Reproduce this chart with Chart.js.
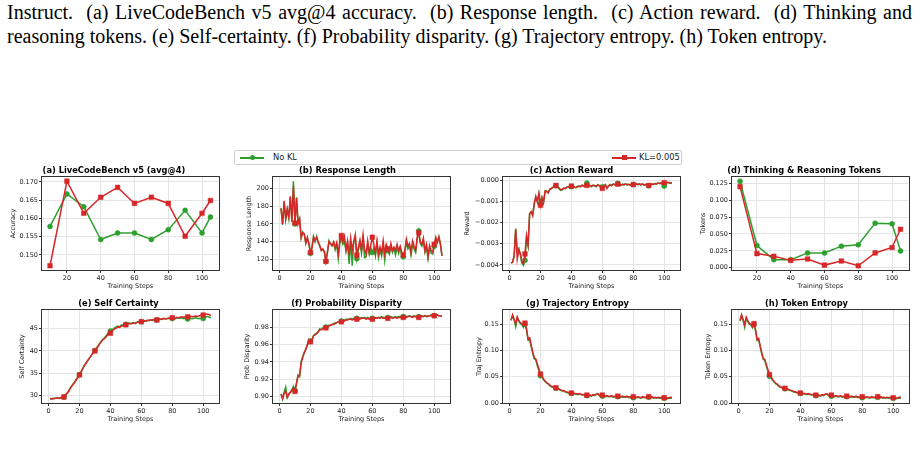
<!DOCTYPE html>
<html>
<head>
<meta charset="utf-8">
<script src="https://cdn.jsdelivr.net/npm/chart.js@4.4.1/dist/chart.umd.min.js"></script>
<style>
  body { margin: 0; width: 920px; height: 455px; background: #fff; position: relative; overflow: hidden; }
  .cap { position: absolute; left: 7px; width: 905px; font-family: "Liberation Serif", serif; font-size: 20px; line-height: 20px; color: #000; }
  #cap1 { top: 2px; text-align: justify; text-align-last: justify; }
  #cap2 { top: 26px; white-space: nowrap; }
  .panel { position: absolute; }
  #legend { position: absolute; left: 234px; top: 150px; width: 446px; height: 13px; border: 1px solid #d0d0d0; border-radius: 2px;
            font-family: "DejaVu Sans", sans-serif; font-size: 8.3px; color: #222; }
  .item { position: absolute; top: 0; height: 13px; line-height: 13px; }
  .sym { position: absolute; top: 6px; width: 24px; height: 1.5px; }
  .sym i { position: absolute; left: 9.5px; top: -2.2px; width: 5px; height: 5px; }
</style>
</head>
<body>
<div class="cap" id="cap1">Instruct.&nbsp; (a) LiveCodeBench v5 avg@4 accuracy.&nbsp; (b) Response length.&nbsp; (c) Action reward.&nbsp; (d) Thinking and</div>
<div class="cap" id="cap2">reasoning tokens. (e) Self-certainty. (f) Probability disparity. (g) Trajectory entropy. (h) Token entropy.</div>

<div id="legend">
  <div class="item" style="left:5px"><span class="sym" style="background:#2ca02c"><i style="background:#2ca02c;border-radius:50%"></i></span><span style="position:absolute;left:33px">No&nbsp;KL</span></div>
  <div class="item" style="left:377px"><span class="sym" style="background:#d62728"><i style="background:#d62728"></i></span><span style="position:absolute;left:27px;white-space:nowrap">KL=0.005</span></div>
</div>

<canvas id="pa" class="panel"></canvas>
<canvas id="pb" class="panel"></canvas>
<canvas id="pc" class="panel"></canvas>
<canvas id="pd" class="panel"></canvas>
<canvas id="pe" class="panel"></canvas>
<canvas id="pf" class="panel"></canvas>
<canvas id="pg" class="panel"></canvas>
<canvas id="ph" class="panel"></canvas>

<script>
// ===========================
// DATA
// ===========================
const evalSteps = [10, 20, 30, 40, 50, 60, 70, 80, 90, 100, 105];

// (a) LiveCodeBench v5 avg@4
const accNoKL = [0.1578, 0.1667, 0.1632, 0.1542, 0.1560, 0.1560, 0.1542, 0.1569, 0.1622, 0.1560, 0.1604];
const accKL   = [0.1470, 0.1702, 0.1614, 0.1658, 0.1685, 0.1641, 0.1658, 0.1641, 0.1551, 0.1614, 0.1649];

// (d) thinking & reasoning tokens
const tokNoKL = [0.128, 0.033, 0.012, 0.012, 0.022, 0.022, 0.032, 0.034, 0.066, 0.065, 0.025];
const tokKL   = [0.120, 0.021, 0.017, 0.011, 0.013, 0.004, 0.010, 0.003, 0.022, 0.030, 0.057];

// (b) response length, steps 1..105
const lenNoKL = [
  178,159,184,166,176,166,190,163,208,160,190,161,165,144,151,148,139,144,137,127,
  134,146,140,146,139,135,131,131,128,118,129,141,137,135,139,131,137,121,139,143,
  137,140,129,138,115,141,113,140,144,121,131,139,127,142,122,123,137,126,133,128,
  133,124,138,122,131,124,137,119,134,130,126,135,128,132,125,134,127,133,124,123,
  127,140,132,136,125,137,132,128,143,152,138,135,141,128,134,121,133,127,126,135,
  143,140,146,137,125];
const lenKL = [
  177,160,186,165,177,168,191,162,202,161,189,160,166,145,150,149,138,145,138,128,
  133,145,141,145,140,136,130,132,129,118,128,140,138,136,140,133,139,126,141,147,
  140,146,131,141,125,144,130,141,148,125,134,142,131,148,131,126,141,128,136,145,
  137,127,141,126,134,127,141,126,137,132,128,138,130,134,130,137,130,135,128,125,
  130,143,135,138,128,141,135,130,145,150,140,137,144,130,137,123,136,130,128,137,
  145,139,145,138,124];

// (c) action reward
const rewNoKL = [
  -0.00390,-0.00388,-0.00360,-0.00228,-0.00330,-0.00320,-0.00352,-0.00392,-0.00402,-0.00378,
  -0.00270,-0.00310,-0.00160,-0.00150,-0.00162,-0.00112,-0.00080,-0.00100,-0.00060,-0.00110,
  -0.00080,-0.00102,-0.00052,-0.00050,-0.00060,-0.00042,-0.00040,-0.00032,-0.00030,-0.00026,
  -0.00030,-0.00040,-0.00048,-0.00046,-0.00038,-0.00040,-0.00032,-0.00030,-0.00034,-0.00030,
  -0.00028,-0.00032,-0.00036,-0.00030,-0.00026,-0.00030,-0.00022,-0.00028,-0.00020,-0.00013,
  -0.00020,-0.00024,-0.00030,-0.00022,-0.00026,-0.00030,-0.00020,-0.00026,-0.00030,-0.00030,
  -0.00028,-0.00020,-0.00036,-0.00028,-0.00020,-0.00026,-0.00018,-0.00022,-0.00020,-0.00014,
  -0.00020,-0.00024,-0.00018,-0.00022,-0.00016,-0.00022,-0.00018,-0.00024,-0.00020,-0.00020,
  -0.00022,-0.00016,-0.00020,-0.00018,-0.00022,-0.00016,-0.00024,-0.00020,-0.00022,-0.00026,
  -0.00020,-0.00016,-0.00020,-0.00014,-0.00018,-0.00012,-0.00016,-0.00014,-0.00020,-0.00027,
  -0.00016,-0.00010,-0.00012,-0.00014,-0.00012];
const rewKL = [
  -0.00392,-0.00386,-0.00355,-0.00232,-0.00372,-0.00330,-0.00345,-0.00385,-0.00395,-0.00348,
  -0.00262,-0.00305,-0.00158,-0.00148,-0.00168,-0.00108,-0.00076,-0.00104,-0.00064,-0.00118,
  -0.00082,-0.00106,-0.00050,-0.00054,-0.00058,-0.00044,-0.00038,-0.00034,-0.00028,-0.00024,
  -0.00032,-0.00036,-0.00044,-0.00042,-0.00036,-0.00038,-0.00034,-0.00030,-0.00032,-0.00027,
  -0.00030,-0.00034,-0.00032,-0.00028,-0.00030,-0.00028,-0.00024,-0.00026,-0.00022,-0.00024,
  -0.00022,-0.00026,-0.00028,-0.00024,-0.00024,-0.00028,-0.00022,-0.00024,-0.00028,-0.00038,
  -0.00026,-0.00022,-0.00038,-0.00026,-0.00022,-0.00024,-0.00018,-0.00020,-0.00018,-0.00018,
  -0.00018,-0.00022,-0.00020,-0.00020,-0.00018,-0.00020,-0.00020,-0.00022,-0.00018,-0.00020,
  -0.00020,-0.00018,-0.00020,-0.00016,-0.00020,-0.00018,-0.00022,-0.00020,-0.00020,-0.00024,
  -0.00022,-0.00018,-0.00018,-0.00016,-0.00016,-0.00014,-0.00014,-0.00012,-0.00014,-0.00011,
  -0.00014,-0.00010,-0.00010,-0.00012,-0.00012];

// (e) self certainty
const certNoKL = [
  29.2,29.1,29.3,29.2,29.4,29.3,29.3,29.4,29.5,29.6, 30.0,30.4,30.8,31.5,32.0,32.6,33.0,33.6,34.0,34.6,
  35.3,36.0,36.5,37.2,37.6,38.2,38.6,39.2,39.6,40.1, 40.6,41.2,41.6,42.2,42.6,42.9,43.3,43.8,44.3,44.5,
  44.8,45.0,45.3,45.5,45.6,45.4,45.8,45.9,45.8,46.0, 46.1,46.3,46.2,46.3,46.4,46.2,46.5,46.6,46.5,46.6,
  46.8,46.7,46.7,46.9,46.8,47.0,46.9,47.0,47.1,47.0, 47.1,47.2,47.1,47.2,47.3,47.2,47.3,47.4,47.2,47.3,
  47.4,47.3,47.5,47.4,47.4,47.5,47.3,47.4,47.3,47.2, 47.3,47.4,47.3,47.4,47.5,47.4,47.3,47.4,47.3,47.3,
  47.5,47.7,47.8,47.6,47.5];
const certKL = [
  29.3,29.2,29.2,29.3,29.3,29.4,29.3,29.5,29.5,29.6, 30.1,30.5,30.9,31.6,32.1,32.5,33.0,33.5,34.1,34.6,
  35.2,35.9,36.6,37.1,37.7,38.1,38.7,39.1,39.7,40.0, 40.5,41.0,41.6,42.0,42.5,42.7,43.1,43.5,43.9,44.0,
  44.5,44.8,45.0,45.2,45.5,45.3,45.6,45.7,45.6,45.9, 46.0,46.2,46.1,46.2,46.3,46.2,46.4,46.6,46.5,46.6,
  46.8,46.8,46.7,46.9,46.9,47.0,47.0,47.1,47.0,47.0, 47.2,47.2,47.1,47.3,47.3,47.2,47.4,47.4,47.5,47.5,
  47.5,47.4,47.6,47.5,47.6,47.7,47.6,47.7,47.6,47.7, 47.6,47.8,47.7,47.8,47.9,47.8,47.9,48.0,48.1,48.1,
  48.2,48.3,48.3,48.2,48.0];

// (f) probability disparity
const dispNoKL = [
  0.903,0.897,0.905,0.911,0.899,0.902,0.905,0.908,0.912,0.907, 0.916,0.925,0.923,0.940,0.946,0.950,0.955,0.959,0.966,0.964,
  0.966,0.970,0.972,0.972,0.975,0.978,0.977,0.979,0.980,0.980, 0.981,0.982,0.982,0.983,0.984,0.985,0.985,0.986,0.987,0.987,
  0.988,0.988,0.989,0.989,0.989,0.990,0.989,0.990,0.990,0.990, 0.990,0.990,0.991,0.990,0.991,0.990,0.991,0.990,0.990,0.990,
  0.991,0.991,0.990,0.991,0.991,0.992,0.991,0.991,0.991,0.991, 0.991,0.992,0.991,0.991,0.992,0.991,0.992,0.992,0.991,0.992,
  0.991,0.992,0.992,0.993,0.992,0.992,0.993,0.992,0.991,0.992, 0.992,0.993,0.992,0.993,0.992,0.993,0.993,0.994,0.993,0.993,
  0.993,0.994,0.993,0.993,0.992];
const dispKL = [
  0.903,0.898,0.904,0.906,0.899,0.903,0.905,0.907,0.910,0.906, 0.915,0.924,0.924,0.939,0.945,0.951,0.954,0.960,0.965,0.963,
  0.965,0.970,0.971,0.973,0.974,0.977,0.977,0.978,0.979,0.979, 0.980,0.981,0.982,0.983,0.983,0.984,0.985,0.986,0.986,0.986,
  0.987,0.987,0.988,0.988,0.989,0.989,0.988,0.989,0.989,0.989, 0.990,0.989,0.990,0.990,0.990,0.989,0.990,0.989,0.989,0.989,
  0.990,0.990,0.990,0.991,0.990,0.991,0.990,0.990,0.990,0.990, 0.991,0.991,0.990,0.991,0.991,0.990,0.991,0.991,0.991,0.991,
  0.991,0.991,0.992,0.992,0.992,0.991,0.992,0.992,0.991,0.991, 0.992,0.992,0.992,0.993,0.992,0.992,0.993,0.993,0.993,0.993,
  0.993,0.994,0.993,0.993,0.992];

// (g) trajectory entropy
const trajNoKL = [
  0.157,0.166,0.158,0.145,0.162,0.156,0.151,0.149,0.144,0.150, 0.139,0.120,0.122,0.108,0.095,0.084,0.082,0.071,0.062,0.052,
  0.049,0.044,0.041,0.038,0.036,0.033,0.031,0.030,0.029,0.028, 0.027,0.026,0.024,0.023,0.023,0.021,0.020,0.019,0.019,0.018,
  0.018,0.017,0.017,0.016,0.017,0.016,0.015,0.015,0.014,0.014, 0.014,0.014,0.013,0.015,0.014,0.016,0.017,0.014,0.013,0.013,
  0.013,0.012,0.013,0.012,0.012,0.013,0.011,0.012,0.012,0.012, 0.012,0.011,0.012,0.011,0.011,0.012,0.010,0.011,0.010,0.010,
  0.011,0.010,0.011,0.010,0.009,0.011,0.010,0.010,0.011,0.011, 0.010,0.011,0.009,0.010,0.009,0.010,0.009,0.010,0.009,0.009,
  0.009,0.008,0.009,0.009,0.009];
const trajKL = [
  0.158,0.168,0.160,0.150,0.164,0.157,0.153,0.151,0.146,0.152, 0.141,0.122,0.124,0.110,0.097,0.086,0.084,0.074,0.065,0.055,
  0.051,0.046,0.042,0.039,0.037,0.034,0.032,0.031,0.030,0.029, 0.028,0.027,0.025,0.024,0.024,0.022,0.021,0.020,0.020,0.019,
  0.019,0.018,0.018,0.017,0.018,0.017,0.016,0.016,0.015,0.015, 0.015,0.015,0.014,0.016,0.015,0.017,0.018,0.015,0.014,0.015,
  0.014,0.013,0.014,0.013,0.013,0.014,0.012,0.013,0.013,0.013, 0.013,0.012,0.013,0.012,0.012,0.013,0.011,0.012,0.011,0.012,
  0.012,0.011,0.012,0.011,0.010,0.012,0.011,0.011,0.012,0.012, 0.011,0.012,0.010,0.011,0.010,0.011,0.010,0.011,0.010,0.010,
  0.010,0.009,0.010,0.011,0.011];

// (h) token entropy
const tentNoKL = [
  0.156,0.166,0.157,0.144,0.161,0.155,0.150,0.148,0.143,0.149, 0.138,0.119,0.121,0.107,0.094,0.083,0.081,0.070,0.061,0.051,
  0.048,0.043,0.040,0.037,0.035,0.032,0.030,0.029,0.028,0.027, 0.026,0.025,0.024,0.023,0.022,0.021,0.020,0.019,0.019,0.018,
  0.018,0.017,0.017,0.016,0.017,0.016,0.015,0.015,0.014,0.014, 0.014,0.014,0.013,0.015,0.014,0.016,0.017,0.014,0.013,0.013,
  0.013,0.012,0.013,0.012,0.012,0.013,0.011,0.012,0.012,0.012, 0.012,0.011,0.012,0.011,0.011,0.012,0.010,0.011,0.010,0.010,
  0.011,0.010,0.011,0.010,0.009,0.011,0.010,0.010,0.011,0.011, 0.010,0.011,0.009,0.010,0.009,0.010,0.009,0.010,0.009,0.009,
  0.009,0.008,0.009,0.009,0.009];
const tentKL = [
  0.157,0.168,0.159,0.149,0.163,0.156,0.152,0.150,0.145,0.151, 0.140,0.121,0.123,0.109,0.096,0.085,0.083,0.073,0.064,0.054,
  0.050,0.045,0.041,0.038,0.036,0.033,0.031,0.030,0.029,0.028, 0.027,0.026,0.025,0.024,0.023,0.022,0.021,0.020,0.020,0.019,
  0.019,0.018,0.018,0.017,0.018,0.017,0.016,0.016,0.015,0.015, 0.015,0.015,0.014,0.016,0.015,0.017,0.018,0.015,0.014,0.015,
  0.014,0.013,0.014,0.013,0.013,0.014,0.012,0.013,0.013,0.013, 0.013,0.012,0.013,0.012,0.012,0.013,0.011,0.012,0.011,0.012,
  0.012,0.011,0.012,0.011,0.010,0.012,0.011,0.011,0.012,0.012, 0.011,0.012,0.010,0.011,0.010,0.011,0.010,0.011,0.010,0.010,
  0.010,0.009,0.010,0.011,0.011];

const trainSteps = lenNoKL.map((_, i) => i + 1);

// ===========================
// STYLE
// ===========================
const GREEN = '#2ca02c';
const RED = '#d62728';
const FONT = '"DejaVu Sans", sans-serif';
const GRID = '#e4e4e4';
const PLOT_W = 177, PLOT_H = 93;
const COLS = [42, 273, 503, 732];
const ROWS = [165, 298];       // canvas tops
const TITLE_H = 12, XAXIS_H = 20, PAD_R = 4;

// axes box (matplotlib-like spines on all four sides)
const frame = {
  id: 'frame',
  afterDraw(chart) {
    const { ctx, chartArea: a } = chart;
    ctx.save();
    ctx.strokeStyle = '#333';
    ctx.lineWidth = 1;
    ctx.strokeRect(Math.round(a.left) - 0.5, Math.round(a.top) - 0.5, Math.round(a.right - a.left) + 1, Math.round(a.bottom - a.top) + 1);
    ctx.restore();
  }
};

function fmt(dec) {
  return v => {
    const s = Math.abs(v) < 1e-12 ? (0).toFixed(dec) : v.toFixed(dec);
    return s.replace('-', '\u2212');
  };
}

function series(label, xs, ys, color, shape, dense, order) {
  return {
    label,
    data: xs.map((x, i) => ({ x, y: ys[i] })),
    borderColor: color,
    backgroundColor: color,
    borderWidth: 1.5,
    pointStyle: shape,
    pointRadius: dense ? (c => (xs[c.dataIndex] % 10 === 0 ? (shape === 'rect' ? 3.3 : 2.5) : 0)) : (shape === 'rect' ? 3.3 : 2.5),
    pointBorderWidth: 0.5,
    pointBackgroundColor: color,
    pointBorderColor: color,
    tension: 0,
    order
  };
}

function panel(id, col, row, yw, p) {
  const cv = document.getElementById(id);
  const w = yw + PLOT_W + PAD_R, h = TITLE_H + PLOT_H + XAXIS_H;
  cv.width = w; cv.height = h;
  cv.style.left = (COLS[col] - yw) + 'px';
  cv.style.top = ROWS[row] + 'px';
  cv.style.width = w + 'px'; cv.style.height = h + 'px';
  const dense = p.xs.length > 20;
  new Chart(cv, {
    type: 'line',
    data: {
      datasets: [
        series('No KL', p.xs, p.g, GREEN, 'circle', dense, 2),
        series('KL=0.005', p.xs, p.r, RED, 'rect', dense, 1)
      ]
    },
    options: {
      responsive: false,
      animation: false,
      devicePixelRatio: 1,
      layout: { padding: { left: 0, right: PAD_R, top: 0, bottom: 0 } },
      plugins: {
        legend: { display: false },
        tooltip: { enabled: false },
        title: { display: true, text: p.title, color: '#000', font: { family: FONT, size: 8.3, weight: 'bold' }, padding: { top: 0.5, bottom: 1.5 } }
      },
      scales: {
        x: {
          type: 'linear', min: p.xr[0], max: p.xr[1],
          ticks: { stepSize: 20, includeBounds: false, autoSkip: false, maxRotation: 0, padding: 1, color: '#222', font: { family: FONT, size: 6.5 } },
          grid: { color: GRID, tickColor: '#333', tickLength: 3 },
          border: { display: false },
          title: { display: true, text: 'Training Steps', color: '#222', padding: 0, font: { family: FONT, size: 6.5 } },
          afterFit: s => { s.height = XAXIS_H; }
        },
        y: {
          min: p.yr[0], max: p.yr[1],
          ticks: { stepSize: p.step, includeBounds: false, autoSkip: false, padding: 1, color: '#222', font: { family: FONT, size: 6.5 }, callback: fmt(p.dec) },
          grid: { color: GRID, tickColor: '#333', tickLength: 3 },
          border: { display: false },
          title: { display: true, text: p.ylabel, color: '#222', padding: 0, font: { family: FONT, size: 6.5 } },
          afterFit: s => { s.width = yw; }
        }
      }
    },
    plugins: [frame]
  });
}

const X_EVAL = [5.25, 109.75];
const X_TRAIN = [-4.2, 110.2];

panel('pa', 0, 0, 33, { title: '(a) LiveCodeBench v5 (avg@4)', ylabel: 'Accuracy', xs: evalSteps, g: accNoKL, r: accKL, xr: X_EVAL, yr: [0.14584, 0.17136], step: 0.005, dec: 3 });
panel('pb', 1, 0, 28, { title: '(b) Response Length', ylabel: 'Response Length', xs: trainSteps, g: lenNoKL, r: lenKL, xr: X_TRAIN, yr: [108.25, 212.75], step: 20, dec: 0 });
panel('pc', 2, 0, 40, { title: '(c) Action Reward', ylabel: 'Reward', xs: trainSteps, g: rewNoKL, r: rewKL, xr: X_TRAIN, yr: [-0.00424, 0.00016], step: 0.001, dec: 3 });
panel('pd', 3, 0, 33, { title: '(d) Thinking & Reasoning Tokens', ylabel: 'Tokens', xs: evalSteps, g: tokNoKL, r: tokKL, xr: X_EVAL, yr: [-0.00325, 0.13425], step: 0.025, dec: 3 });
panel('pe', 0, 1, 24, { title: '(e) Self Certainty', ylabel: 'Self Certainty', xs: trainSteps, g: certNoKL, r: certKL, xr: X_TRAIN, yr: [28.25, 49.25], step: 5, dec: 0 });
panel('pf', 1, 1, 30, { title: '(f) Probability Disparity', ylabel: 'Prob Disparity', xs: trainSteps, g: dispNoKL, r: dispKL, xr: X_TRAIN, yr: [0.8927, 0.9996], step: 0.02, dec: 2 });
panel('pg', 2, 1, 28, { title: '(g) Trajectory Entropy', ylabel: 'Traj Entropy', xs: trainSteps, g: trajNoKL, r: trajKL, xr: X_TRAIN, yr: [0, 0.177], step: 0.05, dec: 2 });
panel('ph', 3, 1, 28, { title: '(h) Token Entropy', ylabel: 'Token Entropy', xs: trainSteps, g: tentNoKL, r: tentKL, xr: X_TRAIN, yr: [0, 0.177], step: 0.05, dec: 2 });
</script>
</body>
</html>
